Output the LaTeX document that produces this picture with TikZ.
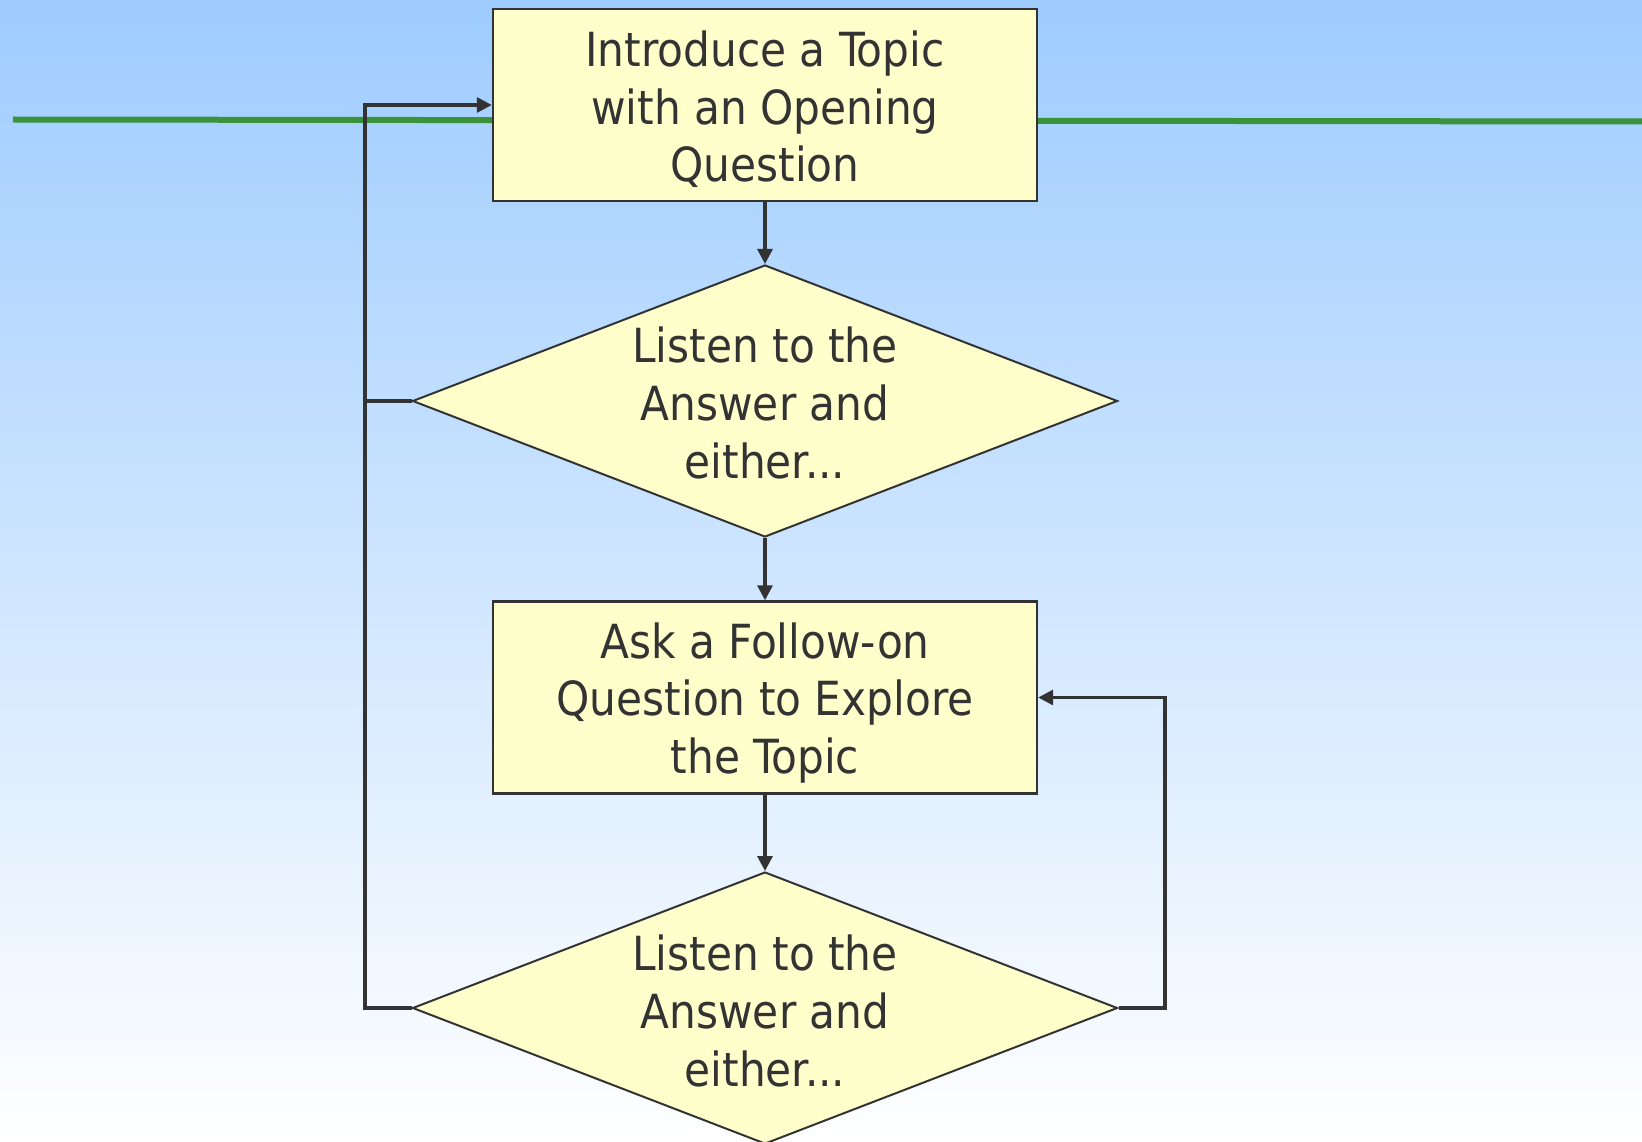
\documentclass[tikz,border=0pt]{standalone}
\usepackage{fontspec}
\setmainfont{DejaVu Sans Condensed}
\usetikzlibrary{shapes.geometric,arrows.meta}
\definecolor{skytop}{RGB}{158,204,255}
\definecolor{rulegreen}{RGB}{58,146,58}
\definecolor{ink}{RGB}{51,51,51}
\definecolor{paleyellow}{RGB}{255,255,204}
\tikzset{
  stepbox/.style={draw=ink, line width=2.4pt, fill=paleyellow, rectangle,
    minimum width=544pt, minimum height=192pt, inner sep=0pt},
  choice/.style={draw=ink, line width=2pt, fill=paleyellow, diamond,
    minimum width=705pt, minimum height=272pt, inner sep=0pt},
  caption/.style={inner sep=0pt, align=center, text=ink,
    font=\fontsize{47pt}{57.6pt}\selectfont},
  conn/.style={draw=ink, line width=3.2pt},
  tip/.style={-{Triangle[length=15pt,width=15pt]}},
}
\begin{document}
\begin{tikzpicture}[x=1pt,y=-1pt]
  % background
  \shade[top color=skytop, bottom color=white] (0,0) rectangle (1642,1142);
  \useasboundingbox (0,0) rectangle (1642,1142);
  % green rule across the top
  \draw[rulegreen, line width=6pt] (13,119.5) -- (1642,121.5);

  % flow steps
  \node[stepbox] (b1) at (765,105) {};
  \node[choice]  (d1) at (765,401) {};
  \node[stepbox] (b2) at (765,697.5) {};
  \node[choice]  (d2) at (765,1008) {};

  % their texts
  \node[caption] (b1t) at ([yshift=-4.2pt]b1.center) {Introduce a Topic\\with an Opening\\Question};
  \node[caption] (d1t) at ([yshift=-2pt]d1.center) {Listen to the\\Answer and\\either...};
  \node[caption] (b2t) at ([yshift=-5.2pt]b2.center) {Ask a Follow-on\\Question to Explore\\the Topic};
  \node[caption] (d2t) at ([yshift=-3pt]d2.center) {Listen to the\\Answer and\\either...};

  % loop rails
  \coordinate (lrail) at (365,0);
  \coordinate (rrail) at (1165,0);

  % main flow
  \draw[conn,tip] (b1) -- (d1);
  \draw[conn,tip] (d1) -- (b2);
  \draw[conn,tip] (b2) -- (d2);

  % back to the opening question
  \draw[conn,tip] (d2.west) -- (d2.west -| lrail) |- (b1.west);
  \draw[conn] (d1.west) -- (d1.west -| lrail);

  % back to the follow-on question
  \draw[conn,tip] (d2.east) -- (d2.east -| rrail) |- (b2.east);
\end{tikzpicture}
\end{document}
